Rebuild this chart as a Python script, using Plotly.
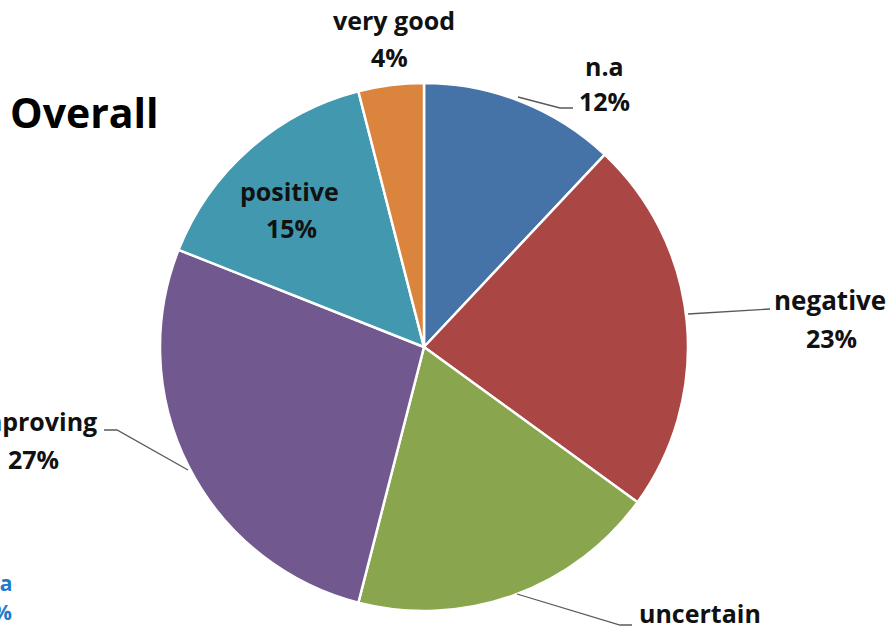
import plotly.graph_objects as go

labels = ["n.a", "negative", "uncertain", "improving", "positive", "very good"]
values = [12, 23, 19, 27, 15, 4]
colors = ["#4572A7", "#AA4643", "#89A54E", "#71588F", "#4198AF", "#DB843D"]
title_text = "Overall"

W, H = 895, 630
FONT = "Open Sans"


def px(x, y):
    return x / W, 1 - y / H


cx, cy, r = 424, 347, 264
fig = go.Figure(go.Pie(
    labels=labels, values=values, sort=False, direction="clockwise", rotation=0,
    marker=dict(colors=colors, line=dict(color="white", width=2.5)),
    textinfo="none", hoverinfo="label+percent", showlegend=False,
    domain=dict(x=[(cx - r) / W, (cx + r) / W], y=[1 - (cy + r) / H, 1 - (cy - r) / H]),
))

# label positions: (x, y, xanchor, yanchor, size) for label line and percent line (None = off-canvas)
label_pos = {
    "n.a": ((604, 66, "center", "middle", 25), (604, 101, "center", "middle", 25)),
    "negative": ((830, 300, "center", "middle", 26), (831, 338, "center", "middle", 25)),
    "uncertain": ((700, 632, "center", "bottom", 25), None),
    "improving": ((99, 421, "right", "middle", 25), (33, 459, "center", "middle", 25)),
    "positive": ((289, 191, "center", "middle", 25), (291, 228, "center", "middle", 25)),
    "very good": ((394, 20, "center", "middle", 25), (389, 57, "center", "middle", 25)),
}
ann = []
for lab, val in zip(labels, values):
    lp, vp = label_pos[lab]
    for t, p in ((lab, lp), (f"{val}%", vp)):
        if p is None:
            continue
        x, y, xa, ya, sz = p
        X, Y = px(x, y)
        ann.append(dict(x=X, y=Y, xref="paper", yref="paper", text=t, showarrow=False,
                        xanchor=xa, yanchor=ya,
                        font=dict(family=FONT, size=sz, color="#111111", weight="bold")))

X, Y = px(84, 112)
ann.append(dict(x=X, y=Y, xref="paper", yref="paper", text=title_text, showarrow=False,
                xanchor="center", yanchor="middle",
                font=dict(family=FONT, size=41, color="#000000", weight="bold")))

# partially visible labels of a neighbouring chart
for t, (x, y) in (("n.a", (14, 583)), ("12%", (14, 612))):
    X, Y = px(x, y)
    ann.append(dict(x=X, y=Y, xref="paper", yref="paper", text=t, showarrow=False,
                    xanchor="right", yanchor="middle",
                    font=dict(family=FONT, size=21, color="#1F7ACB", weight="bold")))

leaders = [
    [(518, 97), (560, 108), (573, 108)],
    [(688, 314), (770, 309)],
    [(517, 594), (620, 625), (632, 625)],
    [(188, 470), (117, 430), (104, 430)],
]
shapes = []
for pts in leaders:
    path = "M " + " L ".join(f"{px(x, y)[0]},{px(x, y)[1]}" for x, y in pts)
    shapes.append(dict(type="path", xref="paper", yref="paper", path=path,
                       line=dict(color="#595959", width=1.3)))

fig.update_layout(width=W, height=H, margin=dict(l=0, r=0, t=0, b=0),
                  paper_bgcolor="white", plot_bgcolor="white",
                  annotations=ann, shapes=shapes)
fig.write_html("out.html", config={"displayModeBar": False},
               post_script="document.body.style.margin='0';document.body.style.overflow='hidden';")
